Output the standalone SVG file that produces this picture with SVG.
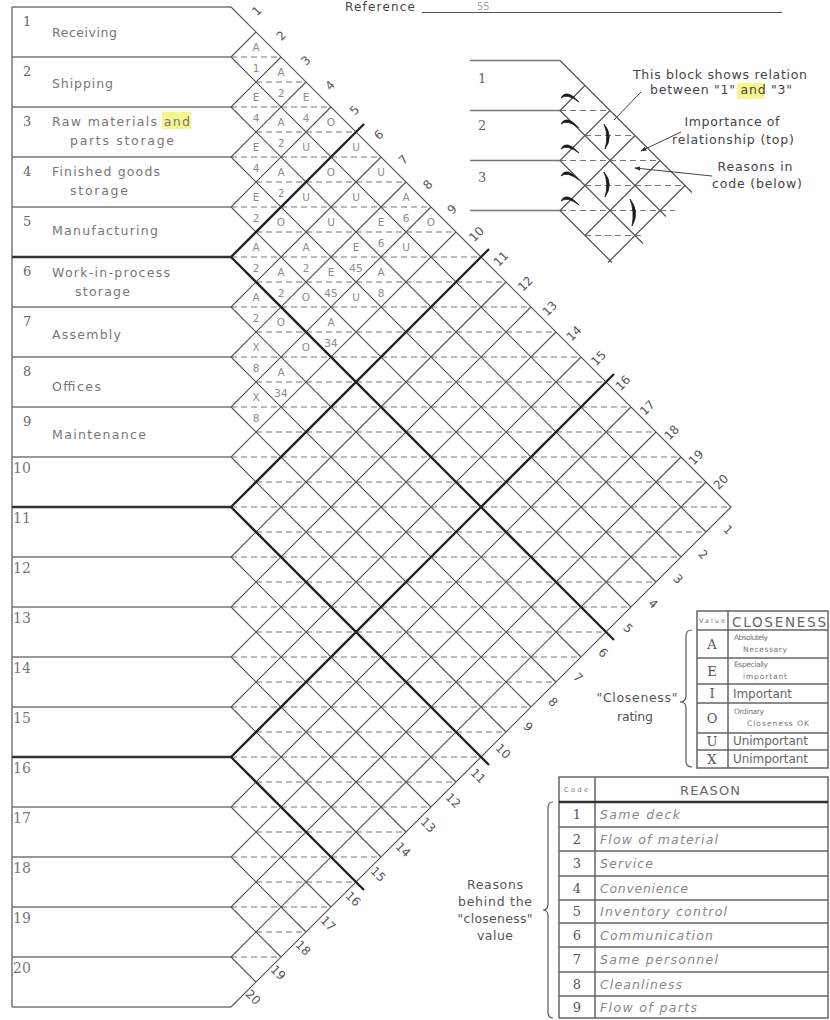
<svg xmlns="http://www.w3.org/2000/svg" width="830" height="1020" viewBox="0 0 830 1020">
<style>
.row{stroke:#777;stroke-width:1.5;fill:none}
.rowb{stroke:#333;stroke-width:2.6;fill:none}
.g{stroke:#555;stroke-width:1.2;fill:none}
.gt{stroke:#222;stroke-width:2.3;fill:none}
.d{stroke:#777;stroke-width:1.2;stroke-dasharray:6 4;fill:none}
.lbl{font-family:"DejaVu Sans",sans-serif;font-size:12.5px;fill:#777}
.num{font-family:"DejaVu Serif",serif;font-size:13px;fill:#666}
.numb{font-family:"DejaVu Serif",serif;font-size:14px;fill:#777}
.c{font-family:"DejaVu Sans",sans-serif;font-size:10.5px;fill:#8c8c8c;text-anchor:middle}
.e{font-family:"DejaVu Sans",sans-serif;font-size:12px;fill:#555;text-anchor:middle}
.t{font-family:"DejaVu Sans",sans-serif;font-size:12.5px;fill:#444;text-anchor:middle}
.tb{stroke:#666;stroke-width:1.5;fill:none}
.sm{font-family:"DejaVu Sans",sans-serif;font-size:7.5px;fill:#777}
.lg{font-family:"DejaVu Sans",sans-serif;font-size:12px;fill:#666}
.rs{font-family:"DejaVu Sans",sans-serif;font-size:12.5px;fill:#888;font-style:italic}
.vl{font-family:"DejaVu Serif",serif;font-size:13px;fill:#555;text-anchor:middle}
.mk{fill:#1a1a1a;stroke:#1a1a1a;stroke-width:0.8}
.hl{fill:#f3f36a;opacity:0.75}
</style>
<defs>
<marker id="ah" viewBox="0 0 8 8" refX="7" refY="4" markerWidth="6" markerHeight="6" orient="auto"><path d="M0,1 L8,4 L0,7 Z" fill="#333"/></marker>
</defs>
<rect x="0" y="0" width="830" height="1020" fill="#fff"/>

<g id="reference">
<text x="345" y="11" class="lg" style="fill:#444" textLength="70">Reference</text>
<line x1="422" y1="12.5" x2="782" y2="12.5" stroke="#555" stroke-width="1.2"/>
<text x="477" y="10" style="font-family:'DejaVu Sans',sans-serif;font-size:10px;fill:#aaa">55</text>
</g>

<g id="row-frame">
<path class="row" d="M12 7V1007 M12 7H231 M12 57H231 M12 107H231 M12 157H231 M12 207H231 M12 307H231 M12 357H231 M12 407H231 M12 457H231 M12 557H231 M12 607H231 M12 657H231 M12 707H231 M12 807H231 M12 857H231 M12 907H231 M12 957H231 M12 1007H231"/>
<path class="rowb" d="M12 257H231 M12 507H231 M12 757H231"/>
</g>

<rect class="hl" x="162" y="112" width="29" height="17"/>
<rect class="hl" x="737" y="83" width="28" height="16"/>

<g id="row-1"><text class="num" x="23" y="26">1</text><text class="lbl" x="52" y="37" textLength="65">Receiving</text></g>
<g id="row-2"><text class="num" x="23" y="76">2</text><text class="lbl" x="52" y="88" textLength="61">Shipping</text></g>
<g id="row-3"><text class="num" x="23" y="126">3</text><text class="lbl" x="52" y="126" textLength="138">Raw materials and</text><text class="lbl" x="70" y="145" textLength="104">parts storage</text></g>
<g id="row-4"><text class="num" x="23" y="176">4</text><text class="lbl" x="52" y="176" textLength="108">Finished goods</text><text class="lbl" x="70" y="195" textLength="58">storage</text></g>
<g id="row-5"><text class="num" x="23" y="226">5</text><text class="lbl" x="52" y="235" textLength="106">Manufacturing</text></g>
<g id="row-6"><text class="num" x="23" y="276">6</text><text class="lbl" x="52" y="277" textLength="118">Work-in-process</text><text class="lbl" x="75" y="296" textLength="55">storage</text></g>
<g id="row-7"><text class="num" x="23" y="326">7</text><text class="lbl" x="52" y="339" textLength="69">Assembly</text></g>
<g id="row-8"><text class="num" x="23" y="376">8</text><text class="lbl" x="52" y="391" textLength="49">Offices</text></g>
<g id="row-9"><text class="num" x="23" y="426">9</text><text class="lbl" x="52" y="439" textLength="94">Maintenance</text></g>
<g id="row-10"><text class="numb" x="13" y="473">10</text></g>
<g id="row-11"><text class="numb" x="13" y="523">11</text></g>
<g id="row-12"><text class="numb" x="13" y="573">12</text></g>
<g id="row-13"><text class="numb" x="13" y="623">13</text></g>
<g id="row-14"><text class="numb" x="13" y="673">14</text></g>
<g id="row-15"><text class="numb" x="13" y="723">15</text></g>
<g id="row-16"><text class="numb" x="13" y="773">16</text></g>
<g id="row-17"><text class="numb" x="13" y="823">17</text></g>
<g id="row-18"><text class="numb" x="13" y="873">18</text></g>
<g id="row-19"><text class="numb" x="13" y="923">19</text></g>
<g id="row-20"><text class="numb" x="13" y="973">20</text></g>

<g id="connectors">
<path class="d" d="M231 57H281 M231 107H331 M231 157H381 M231 207H431 M231 257H481 M231 307H531 M231 357H581 M231 407H631 M231 457H681 M231 507H731 M231 557H681 M231 607H631 M231 657H581 M231 707H531 M231 757H481 M231 807H431 M231 857H381 M231 907H331 M231 957H281 M256 82H306 M256 132H356 M256 182H406 M256 232H456 M256 282H506 M256 332H556 M256 382H606 M256 432H656 M256 482H706 M256 532H706 M256 582H656 M256 632H606 M256 682H556 M256 732H506 M256 782H456 M256 832H406 M256 882H356 M256 932H306"/>
<path class="g" d="M231 7L731 507L231 1007 M231 57L256 32 M231 107L281 57 M231 157L306 82 M231 207L331 107 M231 307L381 157 M231 357L406 182 M231 407L431 207 M231 457L456 232 M231 557L506 282 M231 607L531 307 M231 657L556 332 M231 707L581 357 M231 807L631 407 M231 857L656 432 M231 907L681 457 M231 957L706 482 M231 57L706 532 M231 107L681 557 M231 157L656 582 M231 207L631 607 M231 307L581 657 M231 357L556 682 M231 407L531 707 M231 457L506 732 M231 557L456 782 M231 607L431 807 M231 657L406 832 M231 707L381 857 M231 807L331 907 M231 857L306 932 M231 907L281 957 M231 957L256 982"/>
<path class="gt" d="M231 257L364 124 M231 507L489 249 M231 757L614 374 M231 257L614 640 M231 507L489 765 M231 757L364 890"/>
</g>

<g id="cells">
<text class="c" x="256" y="51">A</text><text class="c" x="256" y="72">1</text>
<text class="c" x="281" y="76">A</text><text class="c" x="281" y="97">2</text>
<text class="c" x="256" y="101">E</text><text class="c" x="256" y="122">4</text>
<text class="c" x="306" y="101">E</text><text class="c" x="306" y="122">4</text>
<text class="c" x="281" y="126">A</text><text class="c" x="281" y="147">2</text>
<text class="c" x="331" y="126">O</text>
<text class="c" x="256" y="151">E</text><text class="c" x="256" y="172">4</text>
<text class="c" x="306" y="151">U</text>
<text class="c" x="356" y="151">U</text>
<text class="c" x="281" y="176">A</text><text class="c" x="281" y="197">2</text>
<text class="c" x="331" y="176">O</text>
<text class="c" x="381" y="176">U</text>
<text class="c" x="256" y="201">E</text><text class="c" x="256" y="222">2</text>
<text class="c" x="306" y="201">U</text>
<text class="c" x="356" y="201">U</text>
<text class="c" x="406" y="201">A</text><text class="c" x="406" y="222">6</text>
<text class="c" x="281" y="226">O</text>
<text class="c" x="331" y="226">U</text>
<text class="c" x="381" y="226">E</text><text class="c" x="381" y="247">6</text>
<text class="c" x="431" y="226">O</text>
<text class="c" x="256" y="251">A</text><text class="c" x="256" y="272">2</text>
<text class="c" x="306" y="251">A</text><text class="c" x="306" y="272">2</text>
<text class="c" x="356" y="251">E</text><text class="c" x="356" y="272">45</text>
<text class="c" x="406" y="251">U</text>
<text class="c" x="281" y="276">A</text><text class="c" x="281" y="297">2</text>
<text class="c" x="331" y="276">E</text><text class="c" x="331" y="297">45</text>
<text class="c" x="381" y="276">A</text><text class="c" x="381" y="297">8</text>
<text class="c" x="256" y="301">A</text><text class="c" x="256" y="322">2</text>
<text class="c" x="306" y="301">O</text>
<text class="c" x="356" y="301">U</text>
<text class="c" x="281" y="326">O</text>
<text class="c" x="331" y="326">A</text><text class="c" x="331" y="347">34</text>
<text class="c" x="256" y="351">X</text><text class="c" x="256" y="372">8</text>
<text class="c" x="306" y="351">O</text>
<text class="c" x="281" y="376">A</text><text class="c" x="281" y="397">34</text>
<text class="c" x="256" y="401">X</text><text class="c" x="256" y="422">8</text>
</g>

<g id="top-edge-numbers">
<text class="e" x="257" y="15" transform="rotate(-45 257 11)">1</text>
<text class="e" x="281.4" y="39.8" transform="rotate(-45 281.4 35.8)">2</text>
<text class="e" x="305.8" y="64.6" transform="rotate(-45 305.8 60.6)">3</text>
<text class="e" x="330.2" y="89.4" transform="rotate(-45 330.2 85.4)">4</text>
<text class="e" x="354.6" y="114.2" transform="rotate(-45 354.6 110.2)">5</text>
<text class="e" x="379" y="139" transform="rotate(-45 379 135)">6</text>
<text class="e" x="403.4" y="163.8" transform="rotate(-45 403.4 159.8)">7</text>
<text class="e" x="427.8" y="188.6" transform="rotate(-45 427.8 184.6)">8</text>
<text class="e" x="452.2" y="213.4" transform="rotate(-45 452.2 209.4)">9</text>
<text class="e" x="476.6" y="238.2" transform="rotate(-45 476.6 234.2)">10</text>
<text class="e" x="501" y="263" transform="rotate(-45 501 259)">11</text>
<text class="e" x="525.4" y="287.8" transform="rotate(-45 525.4 283.8)">12</text>
<text class="e" x="549.8" y="312.6" transform="rotate(-45 549.8 308.6)">13</text>
<text class="e" x="574.2" y="337.4" transform="rotate(-45 574.2 333.4)">14</text>
<text class="e" x="598.6" y="362.2" transform="rotate(-45 598.6 358.2)">15</text>
<text class="e" x="623" y="387" transform="rotate(-45 623 383)">16</text>
<text class="e" x="647.4" y="411.8" transform="rotate(-45 647.4 407.8)">17</text>
<text class="e" x="671.8" y="436.6" transform="rotate(-45 671.8 432.6)">18</text>
<text class="e" x="696.2" y="461.4" transform="rotate(-45 696.2 457.4)">19</text>
<text class="e" x="721" y="486" transform="rotate(-45 721 482)">20</text>
</g>
<g id="bottom-edge-numbers">
<text class="e" x="728" y="534" transform="rotate(45 728 530)">1</text>
<text class="e" x="703" y="558.6" transform="rotate(45 703 554.6)">2</text>
<text class="e" x="678" y="583.2" transform="rotate(45 678 579.2)">3</text>
<text class="e" x="653" y="607.8" transform="rotate(45 653 603.8)">4</text>
<text class="e" x="628" y="632.4" transform="rotate(45 628 628.4)">5</text>
<text class="e" x="603" y="657" transform="rotate(45 603 653)">6</text>
<text class="e" x="578" y="681.6" transform="rotate(45 578 677.6)">7</text>
<text class="e" x="553" y="706.2" transform="rotate(45 553 702.2)">8</text>
<text class="e" x="528" y="730.8" transform="rotate(45 528 726.8)">9</text>
<text class="e" x="503" y="755.4" transform="rotate(45 503 751.4)">10</text>
<text class="e" x="478" y="780" transform="rotate(45 478 776)">11</text>
<text class="e" x="453" y="804.6" transform="rotate(45 453 800.6)">12</text>
<text class="e" x="428" y="829.2" transform="rotate(45 428 825.2)">13</text>
<text class="e" x="403" y="853.8" transform="rotate(45 403 849.8)">14</text>
<text class="e" x="378" y="878.4" transform="rotate(45 378 874.4)">15</text>
<text class="e" x="353" y="903" transform="rotate(45 353 899)">16</text>
<text class="e" x="328" y="927.6" transform="rotate(45 328 923.6)">17</text>
<text class="e" x="303" y="952.2" transform="rotate(45 303 948.2)">18</text>
<text class="e" x="278" y="976.8" transform="rotate(45 278 972.8)">19</text>
<text class="e" x="253" y="1001.4" transform="rotate(45 253 997.4)">20</text>
</g>

<g id="inset">
<path class="row" d="M470 60.5H560 M470 110.5H560 M470 160.5H560 M470 210.5H560"/>
<text class="num" x="478" y="83">1</text>
<text class="num" x="478" y="130">2</text>
<text class="num" x="478" y="182">3</text>
<path class="d" d="M560 110.5H610 M585 135.5H635 M560 160.5H660 M585 185.5H685 M560 210.5H675 M585 235.5H645"/>
<path class="g" d="M560 60.5L692 192.5 M560 110.5L585 85.5 M560 160.5L610 110.5 M560 210.5L635 135.5 M585 235.5L660 160.5 M608 262.5L685 185.5 M560 110.5L666 216.5 M560 160.5L643 243.5 M560 210.5L612 262.5"/>
<path class="mk" d="M561 98 Q566 88 579 102 Q567 93 561 98 Z"/>
<path class="mk" d="M561 124 Q566 114 579 128 Q567 119 561 124 Z"/>
<path class="mk" d="M561 149 Q566 139 579 153 Q567 144 561 149 Z"/>
<path class="mk" d="M561 176 Q566 166 579 180 Q567 171 561 176 Z"/>
<path class="mk" d="M561 201 Q566 191 579 205 Q567 196 561 201 Z"/>
<path class="mk" d="M604 124 Q614 136 605 149 Q609 136 604 124 Z"/>
<path class="mk" d="M604 172 Q614 184 605 197 Q609 184 604 172 Z"/>
<path class="mk" d="M630 199 Q640 212 632 226 Q635 212 630 199 Z"/>
<line x1="641" y1="92" x2="614" y2="120" stroke="#444" stroke-width="1"/>
<line x1="681" y1="132" x2="641" y2="151" stroke="#444" stroke-width="1" marker-end="url(#ah)"/>
<line x1="712" y1="176" x2="635" y2="168" stroke="#444" stroke-width="1" marker-end="url(#ah)"/>
<text class="t" x="720" y="79" textLength="174">This block shows relation</text>
<text class="t" x="721" y="94" textLength="142">between "1" and "3"</text>
<text class="t" x="732" y="126" textLength="95">Importance of</text>
<text class="t" x="733" y="144" textLength="122">relationship (top)</text>
<text class="t" x="755" y="171" textLength="75">Reasons in</text>
<text class="t" x="757" y="188" textLength="90">code (below)</text>
</g>

<g id="closeness-legend">
<rect class="tb" x="697" y="611" width="131" height="157"/>
<path class="tb" d="M728 611V768 M697 630H828 M697 658H828 M697 684H828 M697 703H828 M697 733H828 M697 750H828"/>
<text class="sm" x="699" y="623" style="font-size:6.5px" textLength="26">Value</text>
<text x="732" y="627" style="font-family:'DejaVu Sans',sans-serif;font-size:13.5px;fill:#666" textLength="94">CLOSENESS</text>
<text class="vl" x="712" y="649">A</text>
<text class="vl" x="712" y="676">E</text>
<text class="vl" x="712" y="698">I</text>
<text class="vl" x="712" y="723">O</text>
<text class="vl" x="712" y="746">U</text>
<text class="vl" x="712" y="764">X</text>
<text class="sm" x="734" y="640" textLength="34">Absolutely</text>
<text class="sm" x="743" y="652" textLength="44">Necessary</text>
<text class="sm" x="734" y="667" textLength="34">Especially</text>
<text class="sm" x="743" y="679" textLength="44">important</text>
<text class="lg" x="733" y="698" textLength="59">Important</text>
<text class="sm" x="734" y="714" textLength="30">Ordinary</text>
<text class="sm" x="747" y="726" textLength="62">Closeness OK</text>
<text class="lg" x="733" y="745" textLength="75">Unimportant</text>
<text class="lg" x="733" y="763" textLength="75">Unimportant</text>
<path d="M692 630 Q686 630 686 636 L686 696 Q686 702 680 702 Q686 702 686 708 L686 761 Q686 767 692 767" fill="none" stroke="#555" stroke-width="1.2"/>
<text class="t" x="637" y="702" style="fill:#555" textLength="81">"Closeness"</text>
<text class="t" x="635" y="721" style="fill:#555" textLength="36">rating</text>
</g>

<g id="reason-legend">
<rect class="tb" x="559" y="777" width="269" height="241"/>
<path class="tb" d="M595 777V1018 M559 827H828 M559 851H828 M559 876H828 M559 900H828 M559 923H828 M559 947H828 M559 972H828 M559 996H828"/>
<path d="M559 802H828" stroke="#333" stroke-width="2.4"/>
<text class="sm" x="564" y="792" style="font-size:6.5px" textLength="24">Code</text>
<text x="710" y="795" style="font-family:'DejaVu Sans',sans-serif;font-size:13px;fill:#666;text-anchor:middle" textLength="60">REASON</text>
<text class="vl" x="577" y="819">1</text>
<text class="vl" x="577" y="844">2</text>
<text class="vl" x="577" y="868">3</text>
<text class="vl" x="577" y="893">4</text>
<text class="vl" x="577" y="916">5</text>
<text class="vl" x="577" y="940">6</text>
<text class="vl" x="577" y="964">7</text>
<text class="vl" x="577" y="989">8</text>
<text class="vl" x="577" y="1012">9</text>
<text class="rs" x="600" y="819" textLength="80">Same deck</text>
<text class="rs" x="600" y="844" textLength="118">Flow of material</text>
<text class="rs" x="600" y="868" textLength="53">Service</text>
<text class="rs" x="600" y="893" textLength="88">Convenience</text>
<text class="rs" x="600" y="916" textLength="127">Inventory control</text>
<text class="rs" x="600" y="940" textLength="113">Communication</text>
<text class="rs" x="600" y="964" textLength="118">Same personnel</text>
<text class="rs" x="600" y="989" textLength="82">Cleanliness</text>
<text class="rs" x="600" y="1012" textLength="97">Flow of parts</text>
<path d="M553 802 Q548 802 548 808 L548 904 Q548 910 543 910 Q548 910 548 916 L548 1012 Q548 1018 553 1018" fill="none" stroke="#555" stroke-width="1.2"/>
<text class="t" x="495" y="889" style="fill:#555" textLength="56">Reasons</text>
<text class="t" x="495" y="906" style="fill:#555" textLength="74">behind the</text>
<text class="t" x="495" y="923" style="fill:#555" textLength="75">"closeness"</text>
<text class="t" x="495" y="940" style="fill:#555" textLength="36">value</text>
</g>
</svg>
